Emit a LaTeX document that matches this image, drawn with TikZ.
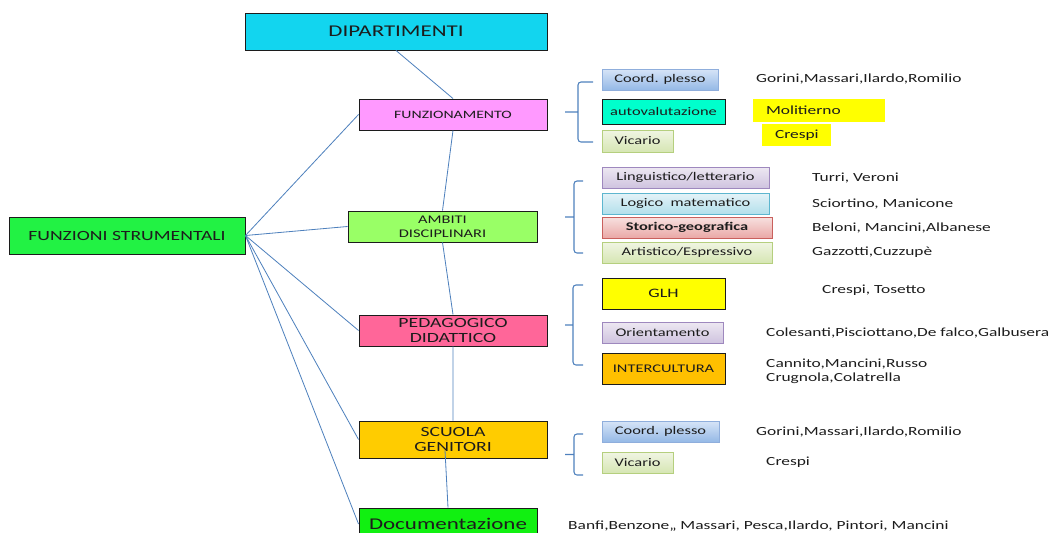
\documentclass[tikz,border=0pt]{standalone}
\usepackage{fontspec}
\setmainfont[FakeStretch=1.4]{Carlito}
\usetikzlibrary{calc,shadows}
\definecolor{linkblue}{HTML}{4F81BD}
\definecolor{inkgray}{HTML}{1C1C1C}
\definecolor{dipcyan}{HTML}{12D5EF}
\definecolor{funzpink}{HTML}{FF99FF}
\definecolor{ambgreen}{HTML}{99FF66}
\definecolor{fsgreen}{HTML}{22F244}
\definecolor{pedpink}{HTML}{FF6699}
\definecolor{scuorange}{HTML}{FFCC00}
\definecolor{docgreen}{HTML}{11F011}
\definecolor{autoaqua}{HTML}{00FFCC}
\definecolor{glhyellow}{HTML}{FFFF00}
\definecolor{interorange}{HTML}{FFC000}
\definecolor{hiyellow}{HTML}{FFFF00}
\definecolor{blueline}{HTML}{8FAEDC}
\definecolor{bluetop}{HTML}{D6E4F7}
\definecolor{bluebot}{HTML}{95B9E6}
\definecolor{greenline}{HTML}{B5CF7E}
\definecolor{greentop}{HTML}{F0F5E3}
\definecolor{greenbot}{HTML}{D6E6B3}
\definecolor{lilacline}{HTML}{9E88BE}
\definecolor{lilactop}{HTML}{EDE8F2}
\definecolor{lilacbot}{HTML}{CFC3DF}
\definecolor{cyanline}{HTML}{5DB6CF}
\definecolor{cyantop}{HTML}{E4F3F8}
\definecolor{cyanbot}{HTML}{B3DFEB}
\definecolor{redline}{HTML}{C9605D}
\definecolor{redtop}{HTML}{F7E1E0}
\definecolor{redbot}{HTML}{EAA8A6}

\begin{document}
\begin{tikzpicture}[x=0.03cm,y=-0.03cm,
    wh/.style 2 args={minimum width=#1*0.03cm,minimum height=#2*0.03cm},
    main/.style={draw=inkgray,line width=.8pt,text=inkgray,align=center,inner sep=0pt},
    subbox/.style={line width=.7pt,text=inkgray,inner sep=0pt,
      font=\fontsize{10}{12}\selectfont},
    softbox/.style={subbox,draw=#1line,top color=#1top,bottom color=#1bot,
      drop shadow={opacity=.25,shadow xshift=.8pt,shadow yshift=-1pt}},
    hilite/.style={fill=hiyellow,inner xsep=0.39cm,inner ysep=0pt,align=left,
      text=inkgray,font=\fontsize{10.6}{12}\selectfont},
    who/.style={anchor=west,inner sep=0pt,text=inkgray,font=\fontsize{10.6}{12}\selectfont},
    link/.style={linkblue,line width=.7pt},
    curly/.style={linkblue,line width=.9pt,rounded corners=2.5pt}]
  \useasboundingbox (0,0) rectangle (1051,533);
  \node[main,wh={302}{37},fill=dipcyan,font=\fontsize{14}{16}\selectfont] (dip) at (396,31.5) {DIPARTIMENTI};
  \node[main,wh={188}{31},fill=funzpink,font=\fontsize{9.6}{11}\selectfont] (funz) at (453,114.5) {FUNZIONAMENTO};
  \node[main,wh={189}{31},fill=ambgreen,font=\fontsize{10}{12}\selectfont] (amb) at (442.5,226.5) {AMBITI\\DISCIPLINARI};
  \node[main,wh={236}{37},fill=fsgreen,font=\fontsize{12}{14}\selectfont] (fs) at (127,235.5) {FUNZIONI STRUMENTALI};
  \node[main,wh={188}{31},fill=pedpink,font=\fontsize{12}{13.5}\selectfont] (ped) at (453,330.5) {PEDAGOGICO\\DIDATTICO};
  \node[main,wh={188}{37},fill=scuorange,font=\fontsize{12}{13}\selectfont] (scu) at (453,439.5) {SCUOLA\\GENITORI};
  \node[main,wh={178}{32},fill=docgreen,font=\fontsize{14}{16}\selectfont] (doc) at (448,524) {Documentazione};

  \draw[link] (dip.south) -- (funz.north) (funz.south) -- (amb.north)
    (amb.south) -- (ped.north) (ped.south) -- (scu.north);
  \draw[link] ($(scu.south)+(-8,-8)$) -- (doc.north);
  \foreach \n in {funz,amb,ped,scu,doc}
    \draw[link] (fs.east) -- (\n.west);

  \node[softbox=blue,wh={116}{21}] (cp1) at (660,79.5) {Coord. plesso};
  \node[subbox,draw=inkgray,fill=autoaqua,wh={123}{25}] (autov) at (663.5,111.5) {autovalutazione};
  \node[softbox=green,wh={71}{22}] (vic1) at (637.5,141) {Vicario};
  \node[softbox=lilac,wh={167}{21}] (ling) at (685.5,177.5) {Linguistico/letterario};
  \node[softbox=cyan,wh={167}{21}] (logi) at (685.5,203.5) {Logico\ \ matematico};
  \node[softbox=red,wh={170}{21},font=\fontsize{10}{12}\selectfont\bfseries] (stor) at (687,227.5) {Storico-geografica};
  \node[softbox=green,wh={170}{21}] (arti) at (687,252.5) {Artistico/Espressivo};
  \node[subbox,draw=inkgray,fill=glhyellow,wh={123}{31},font=\fontsize{11}{13}\selectfont] (glh) at (663.5,293.5) {GLH};
  \node[softbox=lilac,wh={121}{21}] (orie) at (662.5,332.5) {Orientamento};
  \node[subbox,draw=inkgray,fill=interorange,wh={123}{31}] (inter) at (663.5,368.5) {INTERCULTURA};
  \node[softbox=blue,wh={117}{21}] (cp2) at (660.5,431.5) {Coord. plesso};
  \node[softbox=green,wh={71}{21}] (vic2) at (637.5,462.5) {Vicario};

  \foreach \xv/\xe/\ya/\yb in {578/593/82/142,574/583/181/253,573/583/285/365,574/583/434/475}
    \draw[curly] (\xe,\ya) -- (\xv,\ya) -- (\xv,\yb) -- (\xe,\yb)
      (\xv,{(\ya+\yb)/2}) -- (565,{(\ya+\yb)/2});

  \node[hilite,text width=3.18cm,minimum height=0.69cm] (molit) at (819,110.5) {Molitierno};
  \node[hilite,text width=1.29cm,minimum height=0.66cm] (cres1) at (796.5,135) {Crespi};
  \foreach \n/\x/\y/\t in {gor1/756/79/{Gorini,Massari,Ilardo,Romilio},
      turri/812/178/{Turri, Veroni},
      scio/812/204/{Sciortino, Manicone},
      belo/812/228/{Beloni, Mancini,Albanese},
      gazz/812/252/{Gazzotti,Cuzzupè},
      tose/822/290/{Crespi, Tosetto},
      cole/766/333/{Colesanti,Pisciottano,De falco,Galbusera},
      gor2/756/432/{Gorini,Massari,Ilardo,Romilio},
      cres2/766/462/{Crespi},
      banfi/568/526/{Banfi,Benzone,, Massari, Pesca,Ilardo, Pintori, Mancini}}
    \node[who] (\n) at (\x,\y) {\t};
  \node[who,align=left] (cann) at (766,371) {Cannito,Mancini,Russo\\Crugnola,Colatrella};
\end{tikzpicture}
\end{document}
